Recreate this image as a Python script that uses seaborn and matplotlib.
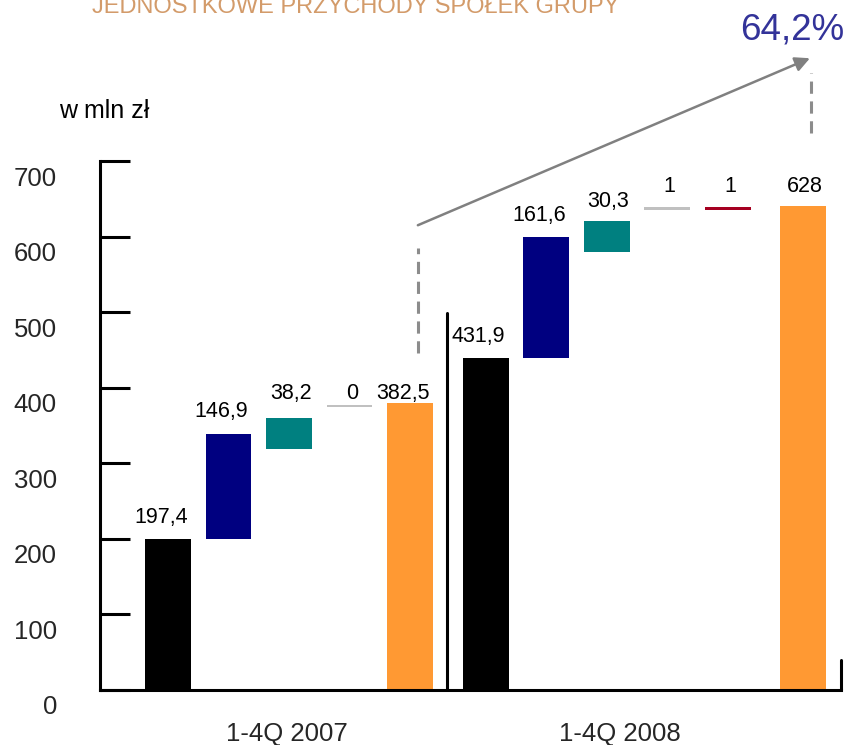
import matplotlib
matplotlib.use('Agg')
import matplotlib.pyplot as plt
import matplotlib.transforms as mtransforms
import seaborn as sns

# Values (w mln zł)
bar_labels = ['197,4', '146,9', '38,2', '0', '382,5',
              '431,9', '161,6', '30,3', '1', '1', '628']
bar_bottoms = [0, 200, 319, 374.5, 0, 0, 439, 580, 635, 635, 0]
bar_tops = [200, 339, 360, 377.5, 380, 439, 599, 621, 638.5, 638.5, 640.5]
label_heights = [228, 368, 393, 393, 393, 468, 628, 647, 666, 666, 666]
group_labels = ['1-4Q 2007', '1-4Q 2008']
y_ticks = [0, 100, 200, 300, 400, 500, 600, 700]
growth_text = '64,2%'

# Layout
slot_pos = [0, 1, 2, 3, 4, 5.25, 6.25, 7.25, 8.25, 9.25, 10.5]
label_dx = [-0.12, -0.12, 0.03, 0.04, -0.12, -0.13, -0.12, 0.03, 0.04, 0.04, 0.02]
bar_colors = ['#000000', '#000080', '#008080', '#C0C0C0', '#FF9933',
              '#000000', '#000080', '#008080', '#C0C0C0', '#A50021', '#FF9933']

sns.set_theme(style='white')
plt.rcParams['font.family'] = ['Liberation Sans', 'DejaVu Sans']

fig = plt.figure(figsize=(8.5, 7.45), dpi=100)
ax = fig.add_axes([100 / 850, 55 / 745, 741 / 850, 529 / 745])

# Floating waterfall bars
for p, b, t, c in zip(slot_pos, bar_bottoms, bar_tops, bar_colors):
    sns.barplot(x=[p], y=[t - b], bottom=b, color=c, width=0.76,
                native_scale=True, orient='x', errorbar=None,
                saturation=1, linewidth=0, ax=ax)

# Value labels
for p, dx, h, txt in zip(slot_pos, label_dx, label_heights, bar_labels):
    ax.text(p + dx, h, txt, ha='center', va='center', fontsize=15.5,
            color='black', clip_on=False)

ax.set_xlim(-1.124, 11.124)
ax.set_ylim(0, 700)
ax.set_xlabel('')
ax.set_ylabel('')

# Axes styling
for side in ['top', 'right']:
    ax.spines[side].set_visible(False)
for side in ['left', 'bottom']:
    ax.spines[side].set_color('black')
    ax.spines[side].set_linewidth(2.2)

ax.set_yticks(y_ticks)
ax.set_yticklabels([str(v) for v in y_ticks])
ax.tick_params(axis='y', direction='in', length=21.6, width=2.2,
               color='black', pad=31, labelsize=18.5, left=True)
offset = mtransforms.ScaledTranslation(0, -0.15, fig.dpi_scale_trans)
for lbl in ax.get_yticklabels():
    lbl.set_transform(lbl.get_transform() + offset)

ax.set_xticks([1.97, 7.47])
ax.set_xticklabels(group_labels)
ax.tick_params(axis='x', length=0, pad=23, labelsize=18.5)

# Group separator and right end mark
ax.plot([4.61, 4.61], [0, 499], color='black', lw=2.2, clip_on=False)
ax.plot([11.124, 11.124], [0, 40], color='black', lw=2.2, clip_on=False)

# Growth arrow with dashed connectors
ax.plot([4.13, 4.13], [446, 585], color='#8C8C8C', lw=2.2,
        dashes=(4, 2.5), clip_on=False)
ax.plot([10.63, 10.63], [737, 816], color='#8C8C8C', lw=2.2,
        dashes=(4, 2.5), clip_on=False)
ax.annotate('', xy=(10.61, 836), xytext=(4.13, 615),
            arrowprops=dict(arrowstyle='-|>', color='#808080', lw=1.8,
                            mutation_scale=22, shrinkA=0, shrinkB=0),
            annotation_clip=False)

# Texts outside the plot (the title is cut at the top edge, as in the source)
fig.text(356 / 850, 1 - 13 / 745, 'JEDNOSTKOWE PRZYCHODY SPÓŁEK GRUPY',
         ha='center', va='baseline', fontsize=17, color='#D39B6A')
fig.text(792 / 850, 1 - 40 / 745, growth_text, ha='center', va='baseline',
         fontsize=26.5, color='#333399')
fig.text(59 / 850, 1 - 118 / 745, 'w mln zł', ha='left', va='baseline',
         fontsize=18, color='black')

plt.savefig('out.png', dpi=100)
